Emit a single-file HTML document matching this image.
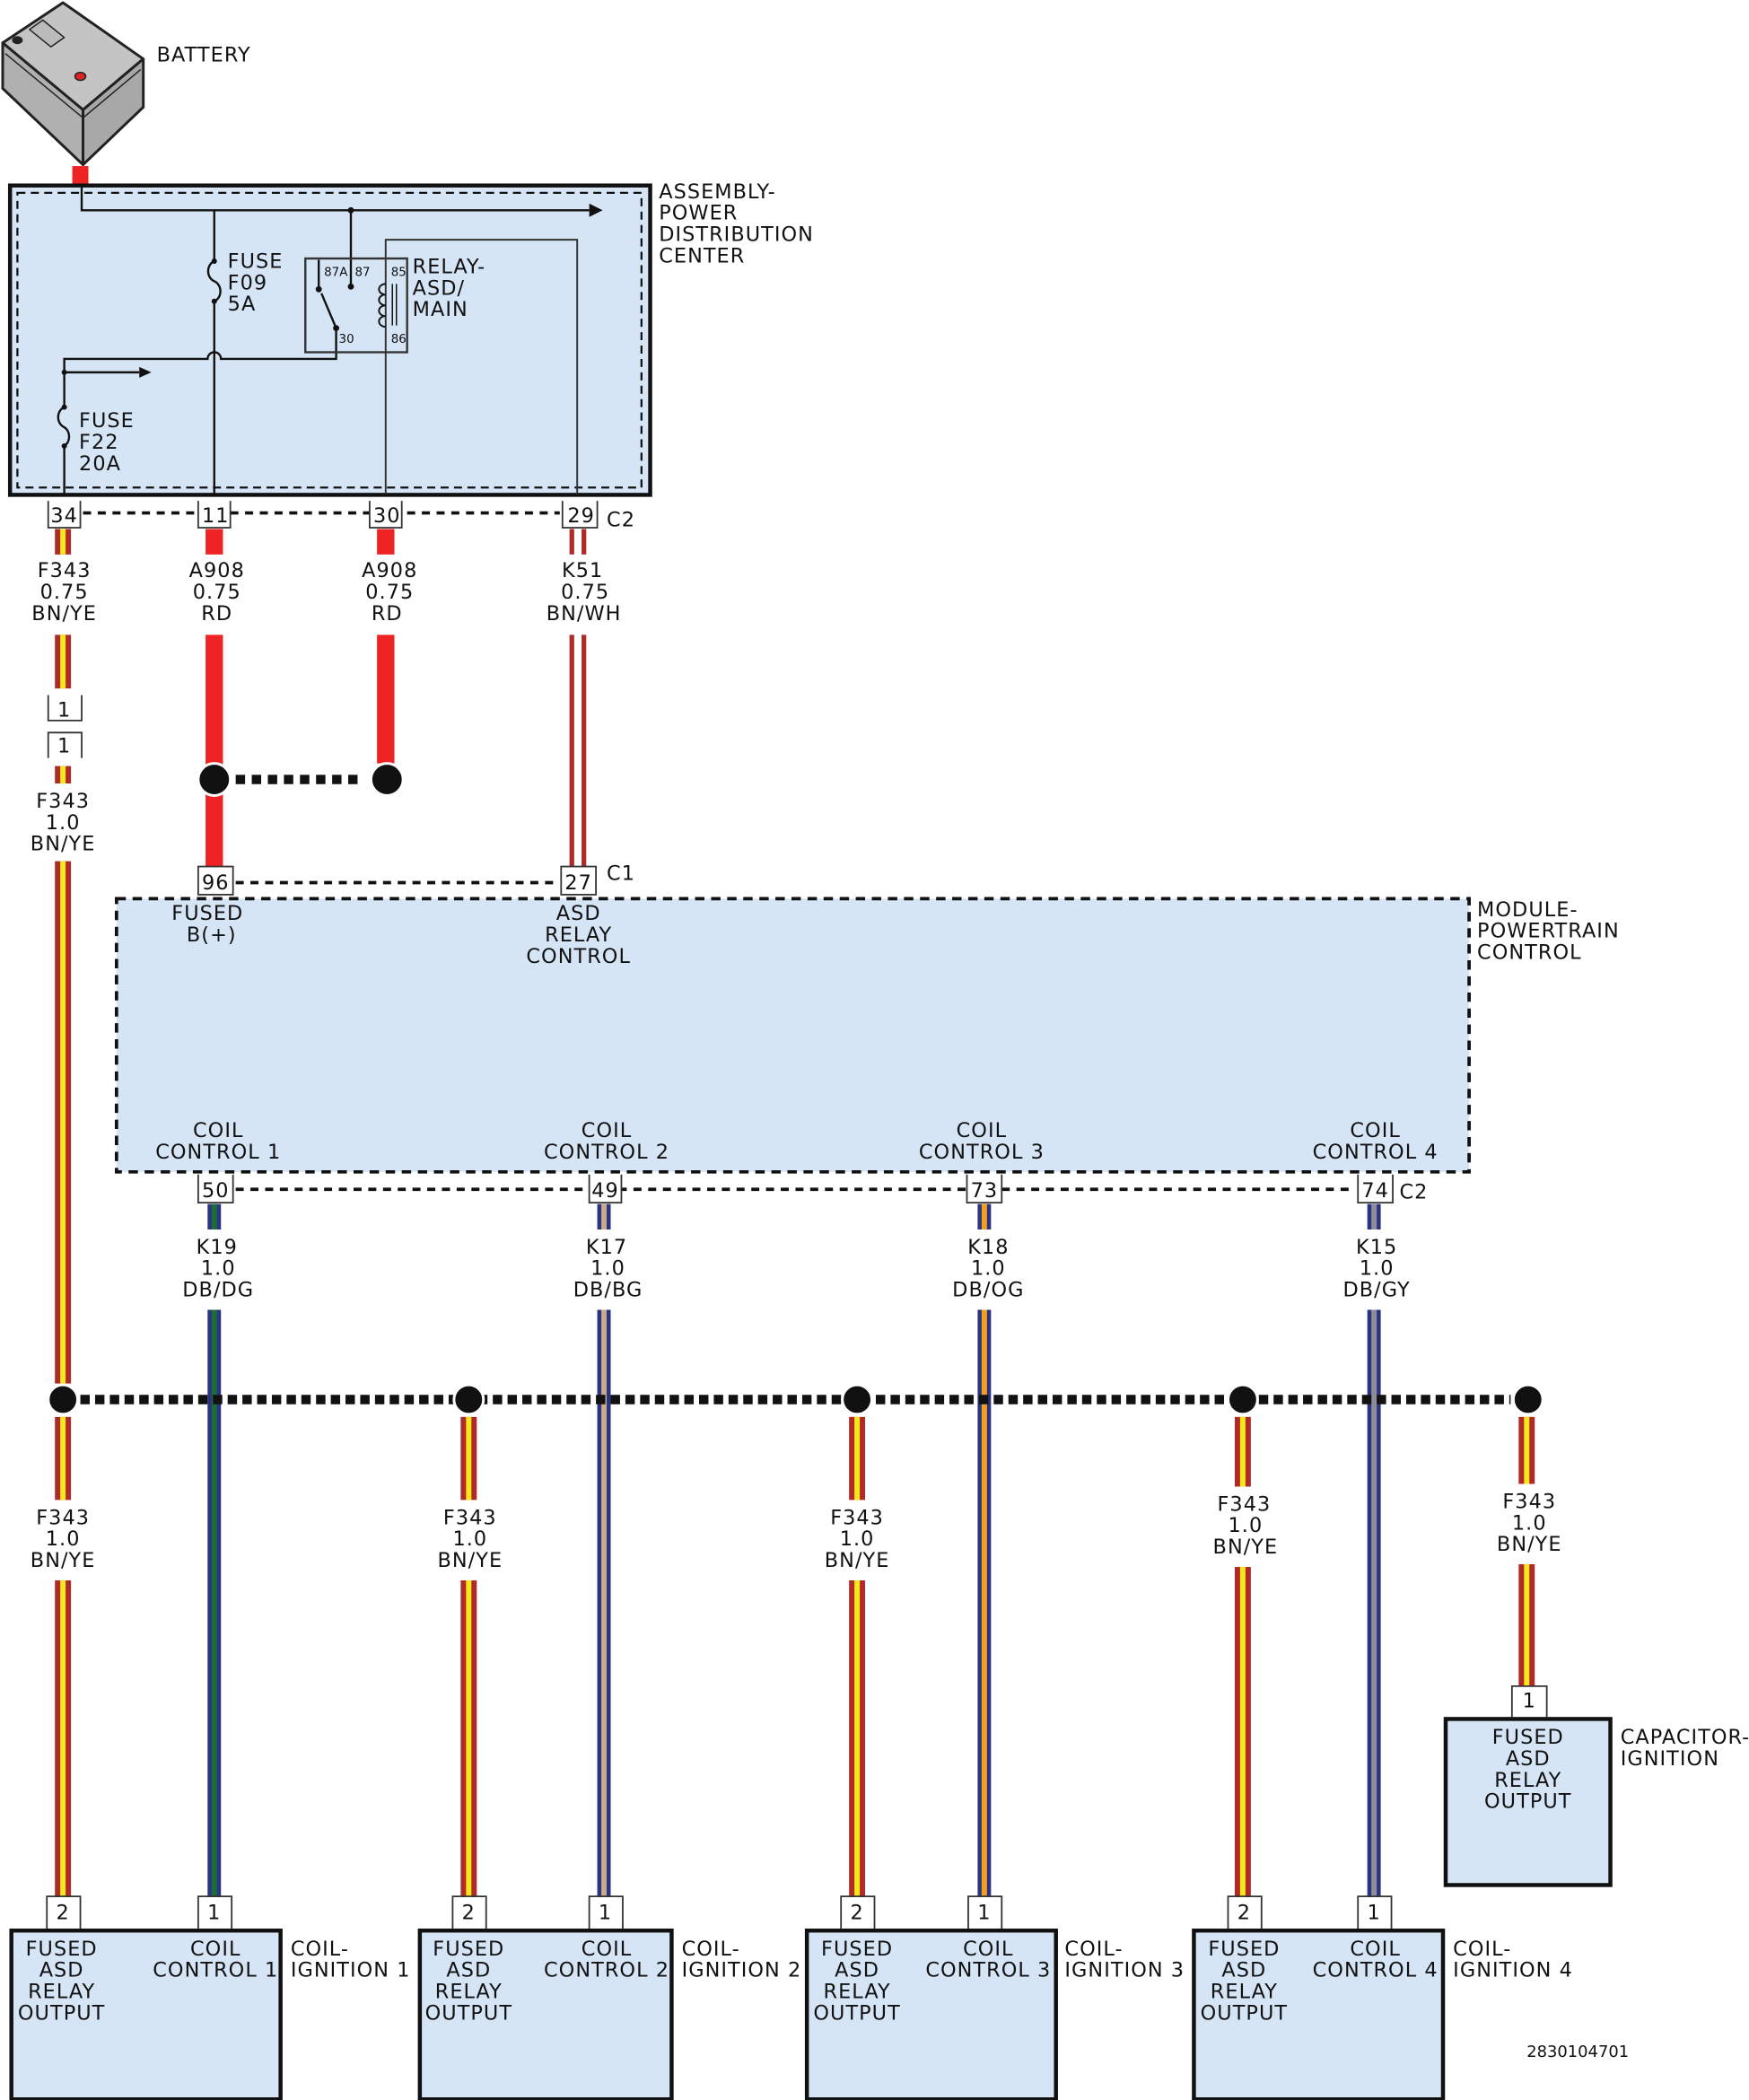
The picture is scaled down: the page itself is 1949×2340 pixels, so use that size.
<!DOCTYPE html>
<html><head><meta charset="utf-8"><style>
html,body{margin:0;padding:0;background:#fff;}
svg{display:block;}
text{font-family:"DejaVu Sans","Liberation Sans",sans-serif;font-size:15px;fill:#111;letter-spacing:0.7px;}
.m{text-anchor:middle;}
.s{font-size:9px;letter-spacing:0;}
</style></head><body>
<svg width="1949" height="2340" viewBox="0 0 1306 1568" preserveAspectRatio="none" xmlns="http://www.w3.org/2000/svg">
<!-- Battery -->
<g stroke="#222" stroke-width="2" stroke-linejoin="round">
<polygon points="2,32 62,82 107,44 47,2 " fill="#c4c4c4"/>
<polygon points="2,32 62,82 62,123 2,66" fill="#b0b0b0"/>
<polygon points="62,82 107,44 107,80 62,123" fill="#a8a8a8"/>
<polyline points="4,40 62,88 105,52" fill="none" stroke-width="1"/>
<polygon points="22,22 32,15 48,28 38,35" fill="#bbb" stroke-width="1"/>
</g>
<ellipse cx="60" cy="57" rx="4" ry="3" fill="#d22" stroke="#222"/>
<ellipse cx="13" cy="30" rx="4" ry="3" fill="#222"/>
<text x="117" y="46">BATTERY</text>
<rect x="54" y="124" width="12" height="15" fill="#ee2424"/>
<!-- PDC -->
<rect x="7.5" y="138.5" width="478" height="231" fill="#d5e5f5" stroke="#111" stroke-width="3"/>
<rect x="13" y="144" width="466" height="220" fill="none" stroke="#111" stroke-width="1.5" stroke-dasharray="6,4"/>
<text x="492" y="148">ASSEMBLY-</text><text x="492" y="164">POWER</text><text x="492" y="180">DISTRIBUTION</text><text x="492" y="196">CENTER</text>
<g stroke="#111" stroke-width="1.6" fill="none">
<polyline points="61,139 61,157 440,157"/>
<line x1="262" y1="157" x2="262" y2="216"/>
<path d="M160,157 V195 A7,8 0 0 0 160,210 A7,8 0 0 1 160,225 V369"/>
<path d="M48,369 V333 A7,8 0 0 0 48,319 A7,8 0 0 1 48,304 V268 H155 A5,5 0 0 1 165,268 H251 V245"/>
<line x1="48" y1="278" x2="104" y2="278"/>
<line x1="238" y1="194" x2="238" y2="216"/>
<line x1="251" y1="245" x2="240" y2="219"/>
<rect x="228" y="193" width="76" height="70" stroke="#333"/>
<polyline points="288,369 288,179 431,179 431,369" stroke="#333" stroke-width="1.3"/>
<path d="M288,212 a5,4 0 0 0 0,8 a5,4 0 0 0 0,8 a5,4 0 0 0 0,8 a5,4 0 0 0 0,8" stroke-width="1.3"/>
<line x1="293" y1="212" x2="293" y2="243" stroke-width="1"/>
<line x1="296" y1="212" x2="296" y2="243" stroke-width="1"/>
</g>
<polygon points="440,152 450,157 440,162" fill="#111"/>
<polygon points="104,274 113,278 104,282" fill="#111"/>
<g fill="#111"><circle cx="262" cy="157" r="2.3"/><circle cx="262" cy="214" r="2.3"/><circle cx="238" cy="216" r="2.3"/><circle cx="251" cy="245" r="2.3"/><circle cx="160" cy="195" r="2"/><circle cx="160" cy="225" r="2"/><circle cx="48" cy="304" r="2"/><circle cx="48" cy="333" r="2"/><circle cx="48" cy="278" r="2"/></g>
<text x="170" y="200">FUSE</text><text x="170" y="216">F09</text><text x="170" y="232">5A</text>
<text x="59" y="319">FUSE</text><text x="59" y="335">F22</text><text x="59" y="351">20A</text>
<text x="242" y="206" class="s">87A</text><text x="265" y="206" class="s">87</text><text x="292" y="206" class="s">85</text><text x="253" y="256" class="s">30</text><text x="292" y="256" class="s">86</text>
<text x="308" y="204">RELAY-</text><text x="308" y="220">ASD/</text><text x="308" y="236">MAIN</text>

<!-- C2 top connectors -->
<line x1="62" y1="383" x2="418" y2="383" stroke="#111" stroke-width="2.5" stroke-dasharray="6,5"/>
<g fill="#fff" stroke="#333" stroke-width="1.2">
<path d="M36,374 V394 H60 V374"/><path d="M148,374 V394 H172 V374"/><path d="M276,374 V394 H300 V374"/><path d="M420,374 V394 H446 V374"/>
</g>
<text x="48" y="390" class="m">34</text><text x="161" y="390" class="m">11</text><text x="289" y="390" class="m">30</text><text x="434" y="390" class="m">29</text><text x="453" y="393">C2</text>

<!-- F343 wire left -->
<g stroke="#b02a2a" stroke-width="12"><line x1="47" y1="395" x2="47" y2="414"/><line x1="47" y1="474" x2="47" y2="514"/><line x1="47" y1="572" x2="47" y2="585"/><line x1="47" y1="643" x2="47" y2="1033"/></g>
<g stroke="#f5e81a" stroke-width="4"><line x1="47" y1="395" x2="47" y2="414"/><line x1="47" y1="474" x2="47" y2="514"/><line x1="47" y1="572" x2="47" y2="585"/><line x1="47" y1="643" x2="47" y2="1033"/></g>
<text x="48" y="431" class="m">F343</text><text x="48" y="447" class="m">0.75</text><text x="48" y="463" class="m">BN/YE</text>
<g fill="none" stroke="#333" stroke-width="1.2"><path d="M36,519 V538 H61 V519"/><path d="M36,566 V547 H61 V566"/></g>
<text x="48" y="535" class="m">1</text><text x="48" y="562" class="m">1</text>
<text x="47" y="603" class="m">F343</text><text x="47" y="619" class="m">1.0</text><text x="47" y="635" class="m">BN/YE</text>

<!-- A908 -->
<g stroke="#ee2424" stroke-width="13"><line x1="160" y1="395" x2="160" y2="414"/><line x1="160" y1="474" x2="160" y2="648"/><line x1="288" y1="395" x2="288" y2="414"/><line x1="288" y1="474" x2="288" y2="570"/></g>
<text x="162" y="431" class="m">A908</text><text x="162" y="447" class="m">0.75</text><text x="162" y="463" class="m">RD</text>
<text x="291" y="431" class="m">A908</text><text x="291" y="447" class="m">0.75</text><text x="289" y="463" class="m">RD</text>
<line x1="176" y1="582" x2="272" y2="582" stroke="#111" stroke-width="7" stroke-dasharray="7,5"/>
<circle cx="160" cy="582" r="12" fill="#111" stroke="#fff" stroke-width="2"/><circle cx="289" cy="582" r="12" fill="#111" stroke="#fff" stroke-width="2"/>
<!-- K51 -->
<g stroke="#b02a2a" stroke-width="3.5"><line x1="427" y1="395" x2="427" y2="414"/><line x1="436" y1="395" x2="436" y2="414"/><line x1="427" y1="474" x2="427" y2="648"/><line x1="436" y1="474" x2="436" y2="648"/></g>
<text x="435" y="431" class="m">K51</text><text x="437" y="447" class="m">0.75</text><text x="436" y="463" class="m">BN/WH</text>

<!-- C1 -->
<line x1="176" y1="659" x2="418" y2="659" stroke="#111" stroke-width="2.5" stroke-dasharray="6,5"/>
<!-- PCM -->
<rect x="87" y="671" width="1010" height="204" fill="#d5e5f5" stroke="#111" stroke-width="2.5" stroke-dasharray="7,5"/>
<g fill="#fff" stroke="#333" stroke-width="1.2"><rect x="148" y="647" width="26" height="21"/><rect x="419" y="647" width="26" height="21"/></g>
<text x="161" y="664" class="m">96</text><text x="432" y="664" class="m">27</text><text x="453" y="657">C1</text>
<text x="155" y="687" class="m">FUSED</text><text x="158" y="703" class="m">B(+)</text>
<text x="432" y="687" class="m">ASD</text><text x="432" y="703" class="m">RELAY</text><text x="432" y="719" class="m">CONTROL</text>
<text x="1103" y="684">MODULE-</text><text x="1103" y="700">POWERTRAIN</text><text x="1103" y="716">CONTROL</text>
<text x="163" y="849" class="m">COIL</text><text x="163" y="865" class="m">CONTROL 1</text>
<text x="453" y="849" class="m">COIL</text><text x="453" y="865" class="m">CONTROL 2</text>
<text x="733" y="849" class="m">COIL</text><text x="733" y="865" class="m">CONTROL 3</text>
<text x="1027" y="849" class="m">COIL</text><text x="1027" y="865" class="m">CONTROL 4</text>

<!-- C2 lower -->
<line x1="176" y1="888" x2="1012" y2="888" stroke="#111" stroke-width="2.5" stroke-dasharray="6,5"/>
<g fill="#fff" stroke="#333" stroke-width="1.2"><path d="M148,877 V898 H174 V877"/><path d="M440,877 V898 H464 V877"/><path d="M722,877 V898 H748 V877"/><path d="M1014,877 V898 H1040 V877"/></g>
<text x="161" y="894" class="m">50</text><text x="452" y="894" class="m">49</text><text x="735" y="894" class="m">73</text><text x="1027" y="894" class="m">74</text><text x="1045" y="895">C2</text>

<!-- K wires -->
<g stroke="#2b3480" stroke-width="10">
<line x1="160" y1="899" x2="160" y2="918"/><line x1="160" y1="978" x2="160" y2="1416"/>
<line x1="451" y1="899" x2="451" y2="918"/><line x1="451" y1="978" x2="451" y2="1416"/>
<line x1="735" y1="899" x2="735" y2="918"/><line x1="735" y1="978" x2="735" y2="1416"/>
<line x1="1026" y1="899" x2="1026" y2="918"/><line x1="1026" y1="978" x2="1026" y2="1416"/>
</g>
<g stroke-width="4">
<line x1="160" y1="899" x2="160" y2="918" stroke="#1e6b3a"/><line x1="160" y1="978" x2="160" y2="1416" stroke="#1e6b3a"/>
<line x1="451" y1="899" x2="451" y2="918" stroke="#c8aa8c"/><line x1="451" y1="978" x2="451" y2="1416" stroke="#c8aa8c"/>
<line x1="735" y1="899" x2="735" y2="918" stroke="#f0a020"/><line x1="735" y1="978" x2="735" y2="1416" stroke="#f0a020"/>
<line x1="1026" y1="899" x2="1026" y2="918" stroke="#8c8c9c"/><line x1="1026" y1="978" x2="1026" y2="1416" stroke="#8c8c9c"/>
</g>
<text x="162" y="936" class="m">K19</text><text x="163" y="952" class="m">1.0</text><text x="163" y="968" class="m">DB/DG</text>
<text x="453" y="936" class="m">K17</text><text x="454" y="952" class="m">1.0</text><text x="454" y="968" class="m">DB/BG</text>
<text x="738" y="936" class="m">K18</text><text x="738" y="952" class="m">1.0</text><text x="738" y="968" class="m">DB/OG</text>
<text x="1028" y="936" class="m">K15</text><text x="1028" y="952" class="m">1.0</text><text x="1028" y="968" class="m">DB/GY</text>

<!-- F343 lower wires -->
<g stroke="#b02a2a" stroke-width="12">
<line x1="47" y1="1058" x2="47" y2="1120"/><line x1="47" y1="1180" x2="47" y2="1416"/>
<line x1="350" y1="1058" x2="350" y2="1120"/><line x1="350" y1="1180" x2="350" y2="1416"/>
<line x1="640" y1="1058" x2="640" y2="1120"/><line x1="640" y1="1180" x2="640" y2="1416"/>
<line x1="928" y1="1058" x2="928" y2="1110"/><line x1="928" y1="1170" x2="928" y2="1416"/>
<line x1="1140" y1="1058" x2="1140" y2="1108"/><line x1="1140" y1="1168" x2="1140" y2="1259"/>
</g>
<g stroke="#f5e81a" stroke-width="4">
<line x1="47" y1="1058" x2="47" y2="1120"/><line x1="47" y1="1180" x2="47" y2="1416"/>
<line x1="350" y1="1058" x2="350" y2="1120"/><line x1="350" y1="1180" x2="350" y2="1416"/>
<line x1="640" y1="1058" x2="640" y2="1120"/><line x1="640" y1="1180" x2="640" y2="1416"/>
<line x1="928" y1="1058" x2="928" y2="1110"/><line x1="928" y1="1170" x2="928" y2="1416"/>
<line x1="1140" y1="1058" x2="1140" y2="1108"/><line x1="1140" y1="1168" x2="1140" y2="1259"/>
</g>
<line x1="60" y1="1045" x2="1128" y2="1045" stroke="#111" stroke-width="7" stroke-dasharray="7,4"/>
<g fill="#111" stroke="#fff" stroke-width="2"><circle cx="47" cy="1045" r="11"/><circle cx="350" cy="1045" r="11"/><circle cx="640" cy="1045" r="11"/><circle cx="928" cy="1045" r="11"/><circle cx="1141" cy="1045" r="11"/></g>
<text x="47" y="1138" class="m">F343</text><text x="47" y="1154" class="m">1.0</text><text x="47" y="1170" class="m">BN/YE</text>
<text x="351" y="1138" class="m">F343</text><text x="351" y="1154" class="m">1.0</text><text x="351" y="1170" class="m">BN/YE</text>
<text x="640" y="1138" class="m">F343</text><text x="640" y="1154" class="m">1.0</text><text x="640" y="1170" class="m">BN/YE</text>
<text x="929" y="1128" class="m">F343</text><text x="930" y="1144" class="m">1.0</text><text x="930" y="1160" class="m">BN/YE</text>
<text x="1142" y="1126" class="m">F343</text><text x="1142" y="1142" class="m">1.0</text><text x="1142" y="1158" class="m">BN/YE</text>

<!-- bottom connectors -->
<g fill="#fff" stroke="#333" stroke-width="1.2">
<path d="M35,1440 V1416 H60 V1440"/><path d="M148,1440 V1416 H173 V1440"/>
<path d="M338,1440 V1416 H363 V1440"/><path d="M440,1440 V1416 H465 V1440"/>
<path d="M628,1440 V1416 H653 V1440"/><path d="M723,1440 V1416 H748 V1440"/>
<path d="M917,1440 V1416 H942 V1440"/><path d="M1014,1440 V1416 H1039 V1440"/>
<path d="M1129,1282 V1259 H1155 V1282"/>
</g>
<text x="47" y="1433" class="m">2</text><text x="160" y="1433" class="m">1</text>
<text x="350" y="1433" class="m">2</text><text x="452" y="1433" class="m">1</text>
<text x="640" y="1433" class="m">2</text><text x="735" y="1433" class="m">1</text>
<text x="929" y="1433" class="m">2</text><text x="1026" y="1433" class="m">1</text>
<text x="1142" y="1275" class="m">1</text>

<g fill="#d5e5f5" stroke="#111" stroke-width="3">
<rect x="8.5" y="1441.5" width="201" height="126"/>
<rect x="313.5" y="1441.5" width="188" height="126"/>
<rect x="602.5" y="1441.5" width="186" height="126"/>
<rect x="891.5" y="1441.5" width="186" height="126"/>
<rect x="1079.5" y="1283.5" width="123" height="124"/>
</g>
<g>
<text x="46" y="1460" class="m">FUSED</text><text x="46" y="1476" class="m">ASD</text><text x="46" y="1492" class="m">RELAY</text><text x="46" y="1508" class="m">OUTPUT</text>
<text x="161" y="1460" class="m">COIL</text><text x="161" y="1476" class="m">CONTROL 1</text>
<text x="217" y="1460">COIL-</text><text x="217" y="1476">IGNITION 1</text>
<text x="350" y="1460" class="m">FUSED</text><text x="350" y="1476" class="m">ASD</text><text x="350" y="1492" class="m">RELAY</text><text x="350" y="1508" class="m">OUTPUT</text>
<text x="453" y="1460" class="m">COIL</text><text x="453" y="1476" class="m">CONTROL 2</text>
<text x="509" y="1460">COIL-</text><text x="509" y="1476">IGNITION 2</text>
<text x="640" y="1460" class="m">FUSED</text><text x="640" y="1476" class="m">ASD</text><text x="640" y="1492" class="m">RELAY</text><text x="640" y="1508" class="m">OUTPUT</text>
<text x="738" y="1460" class="m">COIL</text><text x="738" y="1476" class="m">CONTROL 3</text>
<text x="795" y="1460">COIL-</text><text x="795" y="1476">IGNITION 3</text>
<text x="929" y="1460" class="m">FUSED</text><text x="929" y="1476" class="m">ASD</text><text x="929" y="1492" class="m">RELAY</text><text x="929" y="1508" class="m">OUTPUT</text>
<text x="1027" y="1460" class="m">COIL</text><text x="1027" y="1476" class="m">CONTROL 4</text>
<text x="1085" y="1460">COIL-</text><text x="1085" y="1476">IGNITION 4</text>
<text x="1141" y="1302" class="m">FUSED</text><text x="1141" y="1318" class="m">ASD</text><text x="1141" y="1334" class="m">RELAY</text><text x="1141" y="1350" class="m">OUTPUT</text>
<text x="1210" y="1302">CAPACITOR-</text><text x="1210" y="1318">IGNITION</text>
<text x="1140" y="1536" style="font-size:12px;letter-spacing:0">2830104701</text>
</g>
</svg>
</body></html>
